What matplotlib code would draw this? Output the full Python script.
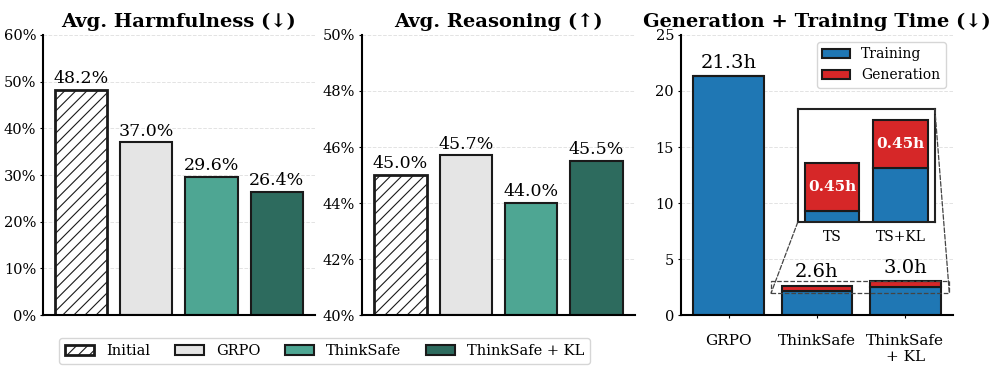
import numpy as np
import matplotlib.pyplot as plt
from matplotlib.patches import Rectangle, ConnectionPatch
from matplotlib.ticker import FuncFormatter

plt.rcParams['font.family'] = ['DejaVu Serif']
plt.rcParams['hatch.linewidth'] = 0.8

# данные
methods = ['Initial', 'GRPO', 'ThinkSafe', 'ThinkSafe + KL']
harm = [48.2, 37.0, 29.6, 26.4]
reason = [45.0, 45.7, 44.0, 45.5]
method_colors = ['white', '#e5e5e5', '#4ea693', '#2d6b5e']

time_labels = ['GRPO', 'ThinkSafe', 'ThinkSafe\n+ KL']
train_time = [21.3, 2.15, 2.55]
gen_time = [0.0, 0.45, 0.45]
inset_labels = ['TS', 'TS+KL']

blue = '#1f77b4'
red = '#d62728'

fig = plt.figure(figsize=(9.96, 3.72), dpi=100)
ax1 = fig.add_axes([0.0432, 0.153, 0.273, 0.753])
ax2 = fig.add_axes([0.3635, 0.153, 0.274, 0.753])
ax3 = fig.add_axes([0.6837, 0.153, 0.273, 0.753])


def style(ax):
    ax.spines['top'].set_visible(False)
    ax.spines['right'].set_visible(False)
    ax.spines['left'].set_linewidth(1.5)
    ax.spines['bottom'].set_linewidth(1.5)
    ax.yaxis.grid(True, linestyle='--', color='#e3e3e3', linewidth=0.7)
    ax.set_axisbelow(True)
    ax.tick_params(axis='y', labelsize=10.5, length=2.5, pad=2.5)


def method_bars(ax, vals, base, off):
    x = np.arange(len(vals))
    bars = ax.bar(x, [v - base for v in vals], bottom=base, width=0.8,
                  color=method_colors, edgecolor='#1a1a1a', linewidth=1.5)
    bars[0].set_hatch('///')
    bars[0].set_linewidth(2)
    for xi, v in zip(x, vals):
        ax.text(xi, v + off, f'{v:.1f}%', ha='center', va='bottom', fontsize=12.5)
    ax.set_xticks([])
    style(ax)
    return bars


bars = method_bars(ax1, harm, 0, 0.6)
ax1.set_ylim(0, 60)
ax1.set_yticks(np.arange(0, 61, 10))
ax1.yaxis.set_major_formatter(FuncFormatter(lambda v, p: f'{v:.0f}%'))
ax1.set_title('Avg. Harmfulness (↓)', fontsize=14, fontweight='bold', pad=6)

method_bars(ax2, reason, 40, 0.1)
ax2.set_ylim(40, 50)
ax2.set_yticks(np.arange(40, 51, 2))
ax2.yaxis.set_major_formatter(FuncFormatter(lambda v, p: f'{v:.0f}%'))
ax2.set_title('Avg. Reasoning (↑)', fontsize=14, fontweight='bold', pad=6)

fig.legend(bars, methods, loc='center', bbox_to_anchor=(0.326, 0.056), ncol=4,
           fontsize=10.5, frameon=True, handlelength=2.0, columnspacing=1.7)

# время
x3 = np.arange(len(time_labels))
ax3.bar(x3, train_time, width=0.8, color=blue, edgecolor='#1a1a1a', linewidth=1.5, label='Training')
ax3.bar(x3, gen_time, bottom=train_time, width=0.8, color=red, edgecolor='#1a1a1a',
        linewidth=1.5, label='Generation')
totals = [t + g for t, g in zip(train_time, gen_time)]
for xi, tot in zip(x3, totals):
    ax3.text(xi, tot + 0.4, f'{tot:.1f}h', ha='center', va='bottom', fontsize=14)
ax3.set_ylim(0, 25)
ax3.set_yticks(np.arange(0, 26, 5))
ax3.set_xticks(x3)
ax3.set_xticklabels(time_labels, fontsize=11)
style(ax3)
ax3.tick_params(axis='x', pad=11, length=2.5)
ax3.set_title('Generation + Training Time (↓)', fontsize=14, fontweight='bold', pad=6)
ax3.legend(loc='upper right', fontsize=10, bbox_to_anchor=(1.0, 1.0))

# вставка
axin = fig.add_axes([0.801, 0.403, 0.1376, 0.304])
xi_in = np.arange(1, 3)
axin.bar(xi_in, train_time[1:], width=0.8, color=blue, edgecolor='#1a1a1a', linewidth=1.5)
axin.bar(xi_in, gen_time[1:], bottom=train_time[1:], width=0.8, color=red,
         edgecolor='#1a1a1a', linewidth=1.5)
for xi, t, g in zip(xi_in, train_time[1:], gen_time[1:]):
    axin.text(xi, t + g / 2, f'{g:.2f}h', ha='center', va='center', color='white',
              fontsize=11, fontweight='bold')
axin.set_xlim(0.5, 2.5)
axin.set_ylim(2.05, 3.1)
axin.set_yticks([])
axin.set_xticks(xi_in)
axin.set_xticklabels(inset_labels, fontsize=10)
axin.tick_params(axis='x', length=0, pad=6)
for s in axin.spines.values():
    s.set_linewidth(1.5)
    s.set_color('#222222')

rx0, rx1, ry0, ry1 = 0.48, 2.5, 1.95, 3.08
ax3.add_patch(Rectangle((rx0, ry0), rx1 - rx0, ry1 - ry0, fill=False, linestyle='--',
                        edgecolor='#444444', linewidth=0.9, zorder=5))
for (xa, ya), (xb, yb) in [((0, 0), (rx0, ry0)), ((1, 1), (rx1, ry0))]:
    cp = ConnectionPatch(xyA=(xa, ya), coordsA=axin.transAxes, xyB=(xb, yb),
                         coordsB=ax3.transData, linestyle='--', color='#444444',
                         linewidth=0.9)
    fig.add_artist(cp)

fig.savefig('out.png', dpi=100)
